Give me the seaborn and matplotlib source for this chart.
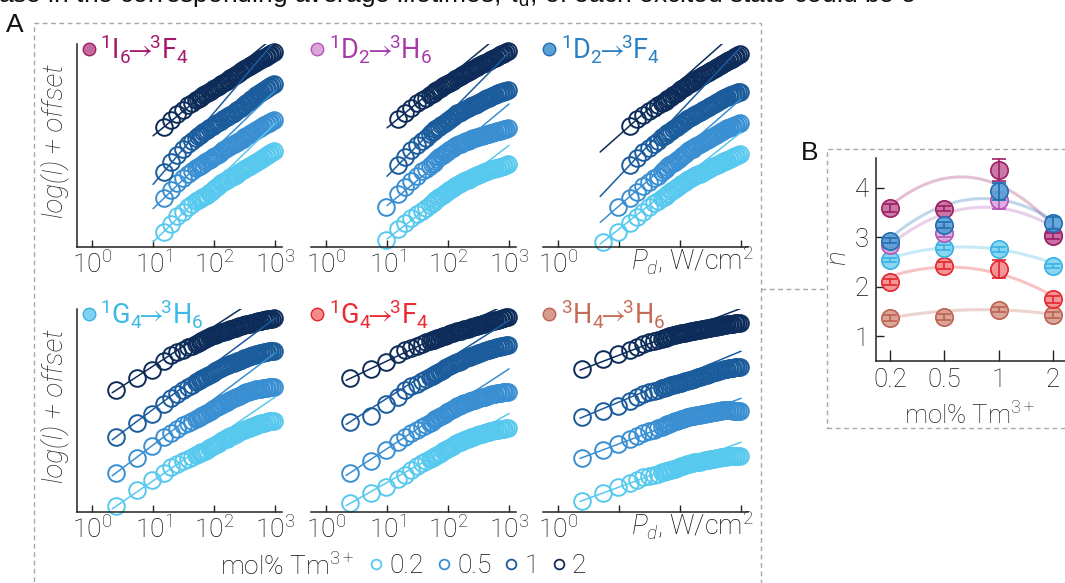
import numpy as np
import matplotlib
matplotlib.use("Agg")
import matplotlib.pyplot as plt
from matplotlib.lines import Line2D
from matplotlib.patches import Rectangle
from matplotlib.colors import to_rgba
from matplotlib.ticker import NullLocator
import seaborn as sns

# ---------------------------------------------------------------- data
# excitation power densities (W/cm^2) of the measurement series
P_GRID = [2.5, 5.5, 9.5, 15, 20, 25, 31, 37, 43, 50, 54, 58, 62, 67, 72, 78, 84, 90, 97,
          105, 113, 120, 130, 140, 150, 160, 172, 185, 197, 210, 225, 240, 257, 275, 295,
          315, 337, 360, 385, 410, 437, 465, 495, 525, 557, 590, 625, 660, 700, 740, 790,
          840, 895, 950]

CONC = ["0.2", "0.5", "1", "2"]          # mol% Tm3+
CONC_COLORS = ["#58C9EE", "#3A8FD2", "#1B5C9C", "#0D2C59"]

# log(I) + offset; every series ends at the highest power density of the grid
I6F4_02 = [0.93, 1.42, 1.86, 2.15, 2.40, 2.59, 2.77, 2.83, 2.89, 2.96, 3.04, 3.11, 3.18, 3.27, 3.36, 3.47, 3.57, 3.66, 3.75, 3.86, 3.96, 4.02, 4.07, 4.15, 4.22, 4.27, 4.32, 4.39, 4.45, 4.52, 4.58, 4.65, 4.71, 4.78, 4.85, 4.91, 4.96, 5.03, 5.10, 5.16, 5.22, 5.28, 5.33, 5.39, 5.44, 5.50, 5.56, 5.62, 5.67, 5.74, 5.80]
I6F4_05 = [2.95, 3.46, 3.88, 4.19, 4.45, 4.60, 4.77, 4.84, 4.91, 4.99, 5.06, 5.13, 5.19, 5.27, 5.35, 5.43, 5.51, 5.59, 5.66, 5.77, 5.88, 5.94, 5.99, 6.07, 6.14, 6.20, 6.25, 6.31, 6.37, 6.44, 6.50, 6.57, 6.64, 6.72, 6.79, 6.85, 6.90, 6.98, 7.06, 7.12, 7.17, 7.22, 7.27, 7.32, 7.37, 7.43, 7.48, 7.54, 7.59, 7.66, 7.72]
I6F4_1 = [4.56, 5.16, 5.60, 5.96, 6.23, 6.42, 6.62, 6.70, 6.77, 6.87, 6.96, 7.04, 7.11, 7.19, 7.26, 7.35, 7.43, 7.50, 7.57, 7.66, 7.74, 7.80, 7.86, 7.95, 8.03, 8.09, 8.15, 8.22, 8.29, 8.37, 8.44, 8.53, 8.62, 8.71, 8.80, 8.87, 8.94, 9.03, 9.12, 9.19, 9.26, 9.32, 9.38, 9.44, 9.50, 9.56, 9.62, 9.68, 9.74, 9.81, 9.88]
I6F4_2 = [7.27, 7.68, 8.05, 8.33, 8.58, 8.73, 8.90, 8.97, 9.04, 9.12, 9.20, 9.27, 9.33, 9.40, 9.47, 9.55, 9.62, 9.69, 9.76, 9.85, 9.94, 10.00, 10.06, 10.15, 10.23, 10.29, 10.35, 10.43, 10.50, 10.57, 10.64, 10.71, 10.77, 10.84, 10.91, 10.97, 11.02, 11.09, 11.15, 11.21, 11.26, 11.32, 11.37, 11.43, 11.48, 11.54, 11.59, 11.65, 11.70, 11.77, 11.83]

D2H6_02 = [0.42, 1.09, 1.44, 1.77, 1.99, 2.20, 2.36, 2.56, 2.65, 2.73, 2.83, 2.93, 3.02, 3.10, 3.18, 3.26, 3.35, 3.44, 3.52, 3.60, 3.69, 3.78, 3.83, 3.87, 3.94, 4.00, 4.04, 4.08, 4.14, 4.19, 4.24, 4.29, 4.34, 4.39, 4.44, 4.49, 4.53, 4.56, 4.60, 4.64, 4.68, 4.71, 4.74, 4.76, 4.79, 4.81, 4.84, 4.87, 4.90, 4.93, 4.97, 5.00]
D2H6_05 = [2.44, 3.21, 3.61, 3.98, 4.33, 4.59, 4.74, 4.93, 5.02, 5.12, 5.23, 5.34, 5.43, 5.52, 5.60, 5.68, 5.78, 5.87, 5.95, 6.02, 6.11, 6.19, 6.23, 6.27, 6.32, 6.37, 6.41, 6.44, 6.49, 6.53, 6.58, 6.62, 6.65, 6.68, 6.72, 6.75, 6.78, 6.80, 6.84, 6.87, 6.90, 6.92, 6.95, 6.98, 7.01, 7.03, 7.06, 7.09, 7.12, 7.14, 7.18, 7.21]
D2H6_1 = [4.95, 5.45, 5.85, 6.18, 6.45, 6.63, 6.87, 6.96, 7.04, 7.13, 7.21, 7.29, 7.37, 7.45, 7.53, 7.62, 7.71, 7.79, 7.87, 7.98, 8.10, 8.15, 8.19, 8.26, 8.32, 8.37, 8.41, 8.47, 8.52, 8.58, 8.63, 8.69, 8.74, 8.80, 8.85, 8.90, 8.94, 9.00, 9.06, 9.11, 9.16, 9.20, 9.24, 9.28, 9.31, 9.35, 9.38, 9.41, 9.44, 9.47, 9.50]
D2H6_2 = [7.76, 8.11, 8.42, 8.70, 8.90, 9.04, 9.21, 9.28, 9.35, 9.44, 9.52, 9.59, 9.66, 9.73, 9.80, 9.88, 9.95, 10.02, 10.09, 10.17, 10.24, 10.30, 10.35, 10.43, 10.50, 10.56, 10.61, 10.68, 10.74, 10.81, 10.87, 10.93, 10.98, 11.04, 11.09, 11.14, 11.18, 11.24, 11.29, 11.34, 11.39, 11.44, 11.48, 11.53, 11.58, 11.63, 11.67, 11.72, 11.77, 11.83, 11.88]

D2F4_02 = [0.33, 0.92, 1.47, 1.84, 2.14, 2.40, 2.67, 2.80, 2.96, 3.04, 3.12, 3.21, 3.30, 3.38, 3.45, 3.53, 3.61, 3.70, 3.79, 3.87, 3.95, 4.05, 4.14, 4.19, 4.23, 4.30, 4.36, 4.41, 4.45, 4.51, 4.56, 4.62, 4.67, 4.73, 4.78, 4.84, 4.89, 4.94, 4.98, 5.04, 5.10, 5.15, 5.19, 5.24, 5.28, 5.32, 5.36, 5.41, 5.45, 5.49, 5.53, 5.59, 5.64]
D2F4_05 = [2.42, 2.95, 3.35, 3.69, 3.96, 4.19, 4.33, 4.52, 4.64, 4.75, 4.85, 4.95, 5.01, 5.07, 5.16, 5.25, 5.36, 5.46, 5.55, 5.64, 5.75, 5.85, 5.91, 5.96, 6.04, 6.11, 6.17, 6.22, 6.29, 6.35, 6.42, 6.48, 6.55, 6.62, 6.69, 6.75, 6.81, 6.86, 6.93, 6.99, 7.05, 7.10, 7.15, 7.19, 7.23, 7.26, 7.30, 7.34, 7.38, 7.41, 7.46, 7.50]
D2F4_1 = [4.97, 5.38, 5.74, 6.01, 6.24, 6.44, 6.64, 6.72, 6.79, 6.88, 6.97, 7.05, 7.13, 7.21, 7.29, 7.39, 7.48, 7.56, 7.64, 7.74, 7.83, 7.89, 7.94, 8.01, 8.07, 8.12, 8.17, 8.23, 8.29, 8.35, 8.41, 8.48, 8.54, 8.61, 8.67, 8.73, 8.79, 8.86, 8.92, 8.98, 9.03, 9.07, 9.11, 9.15, 9.19, 9.23, 9.26, 9.30, 9.33, 9.37, 9.41]
D2F4_2 = [7.35, 7.74, 8.03, 8.26, 8.43, 8.58, 8.74, 8.80, 8.87, 8.96, 9.04, 9.12, 9.20, 9.28, 9.36, 9.46, 9.55, 9.63, 9.71, 9.81, 9.90, 9.96, 10.01, 10.09, 10.16, 10.22, 10.28, 10.35, 10.42, 10.49, 10.56, 10.63, 10.69, 10.75, 10.81, 10.87, 10.92, 10.99, 11.05, 11.10, 11.15, 11.21, 11.26, 11.31, 11.36, 11.42, 11.47, 11.53, 11.58, 11.64, 11.70]

G4H6_02 = [0.36, 1.33, 1.92, 2.36, 2.72, 2.91, 3.09, 3.23, 3.33, 3.45, 3.50, 3.55, 3.61, 3.66, 3.72, 3.78, 3.85, 3.92, 4.00, 4.07, 4.14, 4.21, 4.29, 4.36, 4.41, 4.45, 4.52, 4.58, 4.63, 4.67, 4.73, 4.78, 4.84, 4.89, 4.94, 4.99, 5.04, 5.08, 5.12, 5.16, 5.20, 5.23, 5.27, 5.31, 5.34, 5.37, 5.40, 5.42, 5.45, 5.47, 5.49, 5.51, 5.52, 5.53]
G4H6_05 = [2.38, 3.30, 3.98, 4.52, 4.79, 5.03, 5.25, 5.40, 5.51, 5.65, 5.70, 5.76, 5.82, 5.89, 5.94, 6.00, 6.07, 6.14, 6.22, 6.30, 6.36, 6.43, 6.51, 6.59, 6.63, 6.68, 6.74, 6.81, 6.85, 6.89, 6.94, 7.00, 7.05, 7.11, 7.15, 7.20, 7.25, 7.29, 7.32, 7.35, 7.38, 7.41, 7.43, 7.45, 7.46, 7.48, 7.50, 7.51, 7.52, 7.54, 7.55, 7.57, 7.58, 7.60]
G4H6_1 = [4.56, 5.38, 5.96, 6.57, 6.91, 7.18, 7.41, 7.58, 7.70, 7.85, 7.91, 7.98, 8.05, 8.11, 8.17, 8.22, 8.30, 8.37, 8.45, 8.53, 8.60, 8.66, 8.74, 8.81, 8.85, 8.88, 8.93, 8.98, 9.02, 9.05, 9.10, 9.14, 9.18, 9.22, 9.27, 9.31, 9.35, 9.39, 9.43, 9.46, 9.50, 9.54, 9.57, 9.60, 9.62, 9.64, 9.66, 9.67, 9.69, 9.71, 9.73, 9.74, 9.76, 9.78]
G4H6_2 = [7.39, 8.12, 8.63, 9.15, 9.49, 9.68, 9.84, 9.98, 10.08, 10.21, 10.26, 10.31, 10.37, 10.43, 10.48, 10.53, 10.59, 10.64, 10.70, 10.75, 10.80, 10.85, 10.89, 10.93, 10.97, 11.00, 11.05, 11.09, 11.12, 11.14, 11.18, 11.21, 11.25, 11.28, 11.31, 11.34, 11.37, 11.40, 11.42, 11.44, 11.47, 11.50, 11.53, 11.55, 11.57, 11.59, 11.61, 11.63, 11.65, 11.67, 11.69, 11.70, 11.72, 11.74]

G4F4_02 = [0.53, 1.15, 1.52, 1.97, 2.26, 2.52, 2.76, 2.95, 3.08, 3.23, 3.29, 3.35, 3.42, 3.48, 3.54, 3.60, 3.67, 3.74, 3.82, 3.89, 3.96, 4.02, 4.10, 4.18, 4.22, 4.26, 4.31, 4.36, 4.40, 4.43, 4.48, 4.52, 4.56, 4.60, 4.64, 4.68, 4.72, 4.75, 4.78, 4.80, 4.83, 4.86, 4.89, 4.92, 4.94, 4.96, 4.98, 5.00, 5.02, 5.03, 5.05, 5.06, 5.07, 5.08]
G4F4_05 = [2.38, 3.12, 3.78, 4.24, 4.54, 4.78, 4.98, 5.16, 5.29, 5.42, 5.48, 5.55, 5.62, 5.69, 5.75, 5.82, 5.89, 5.96, 6.04, 6.12, 6.18, 6.25, 6.33, 6.40, 6.44, 6.48, 6.54, 6.59, 6.63, 6.66, 6.71, 6.75, 6.78, 6.81, 6.85, 6.88, 6.92, 6.95, 6.98, 7.00, 7.04, 7.07, 7.10, 7.13, 7.15, 7.17, 7.19, 7.21, 7.23, 7.24, 7.26, 7.27, 7.29, 7.30]
G4F4_1 = [5.47, 5.82, 6.57, 6.97, 7.39, 7.62, 7.78, 7.95, 8.05, 8.16, 8.22, 8.28, 8.34, 8.40, 8.47, 8.54, 8.62, 8.70, 8.77, 8.83, 8.89, 8.94, 9.01, 9.07, 9.12, 9.17, 9.23, 9.29, 9.33, 9.37, 9.41, 9.45, 9.50, 9.54, 9.58, 9.62, 9.66, 9.69, 9.73, 9.76, 9.80, 9.84, 9.87, 9.89, 9.92, 9.94, 9.97, 9.99, 10.02, 10.04, 10.07, 10.09, 10.11, 10.13]
G4F4_2 = [8.10, 8.65, 9.09, 9.56, 9.79, 9.94, 10.08, 10.20, 10.28, 10.37, 10.41, 10.45, 10.50, 10.54, 10.57, 10.61, 10.65, 10.69, 10.74, 10.78, 10.82, 10.86, 10.90, 10.94, 10.97, 11.00, 11.04, 11.07, 11.10, 11.12, 11.16, 11.19, 11.22, 11.25, 11.29, 11.32, 11.35, 11.38, 11.41, 11.44, 11.48, 11.51, 11.54, 11.57, 11.59, 11.61, 11.64, 11.66, 11.69, 11.71, 11.74, 11.76, 11.79, 11.82]

H4H6_02 = [0.69, 1.16, 1.49, 1.74, 1.93, 2.11, 2.17, 2.26, 2.33, 2.41, 2.44, 2.47, 2.51, 2.54, 2.57, 2.59, 2.63, 2.67, 2.72, 2.76, 2.80, 2.84, 2.89, 2.93, 2.96, 2.98, 3.01, 3.03, 3.05, 3.06, 3.08, 3.10, 3.13, 3.15, 3.17, 3.19, 3.22, 3.24, 3.26, 3.27, 3.29, 3.31, 3.33, 3.35, 3.36, 3.37, 3.38, 3.38, 3.39, 3.39, 3.40, 3.40, 3.40, 3.40]
H4H6_05 = [3.30, 3.76, 4.10, 4.40, 4.60, 4.79, 4.89, 5.00, 5.08, 5.18, 5.22, 5.27, 5.31, 5.36, 5.40, 5.45, 5.49, 5.53, 5.57, 5.61, 5.65, 5.69, 5.73, 5.77, 5.79, 5.81, 5.84, 5.86, 5.88, 5.90, 5.92, 5.94, 5.96, 5.98, 6.00, 6.02, 6.05, 6.07, 6.09, 6.10, 6.13, 6.15, 6.16, 6.17, 6.17, 6.17, 6.17, 6.16, 6.16, 6.15, 6.15, 6.15, 6.15, 6.14]
H4H6_1 = [5.74, 6.13, 6.41, 6.74, 6.96, 7.14, 7.27, 7.36, 7.42, 7.50, 7.53, 7.56, 7.60, 7.64, 7.67, 7.70, 7.74, 7.77, 7.81, 7.84, 7.88, 7.91, 7.95, 7.99, 8.02, 8.04, 8.09, 8.13, 8.16, 8.19, 8.23, 8.26, 8.30, 8.33, 8.37, 8.40, 8.44, 8.47, 8.50, 8.52, 8.56, 8.59, 8.62, 8.65, 8.67, 8.69, 8.71, 8.72, 8.74, 8.75, 8.77, 8.78, 8.80, 8.81]
H4H6_2 = [8.65, 9.26, 9.60, 9.83, 10.00, 10.20, 10.30, 10.39, 10.44, 10.51, 10.54, 10.57, 10.61, 10.65, 10.69, 10.73, 10.75, 10.77, 10.80, 10.83, 10.85, 10.87, 10.90, 10.92, 10.94, 10.96, 10.99, 11.01, 11.03, 11.05, 11.07, 11.09, 11.12, 11.14, 11.16, 11.17, 11.20, 11.22, 11.24, 11.26, 11.28, 11.30, 11.32, 11.34, 11.36, 11.37, 11.38, 11.39, 11.41, 11.42, 11.43, 11.44, 11.46, 11.47]

# power-law exponents n (one per Tm3+ concentration), their errors, and the trend guide
N_I6F4 = [3.59, 3.58, 4.35, 3.02]
N_D2H6 = [2.84, 3.08, 3.75, 3.05]
N_D2F4 = [2.93, 3.24, 3.93, 3.28]
N_G4H6 = [2.54, 2.79, 2.76, 2.41]
N_G4F4 = [2.09, 2.42, 2.36, 1.75]
N_H4H6 = [1.36, 1.38, 1.54, 1.42]

ERR_I6F4 = [0.08, 0.06, 0.22, 0.06]
ERR_D2H6 = [0.05, 0.07, 0.17, 0.06]
ERR_D2F4 = [0.05, 0.06, 0.17, 0.12]
ERR_G4H6 = [0.05, 0.05, 0.05, 0.04]
ERR_G4F4 = [0.06, 0.07, 0.18, 0.07]
ERR_H4H6 = [0.06, 0.06, 0.06, 0.06]

TREND_I6F4 = [3.65, 4.13, 4.11, 3.22]
TREND_D2H6 = [2.88, 3.38, 3.68, 3.18]
TREND_D2F4 = [3.01, 3.55, 3.85, 3.31]
TREND_G4H6 = [2.58, 2.78, 2.76, 2.47]
TREND_G4F4 = [2.21, 2.39, 2.27, 1.81]
TREND_H4H6 = [1.37, 1.50, 1.54, 1.44]

ARROW = r"$\!\!\rightarrow\!\!$"
TRANSITIONS = [
    dict(label=r"$^{1}$I$_{6}$" + ARROW + r"$^{3}$F$_{4}$", text="#A3186A",
         fill="#C46A9E", edge="#9E1F63",
         series=[I6F4_02, I6F4_05, I6F4_1, I6F4_2], n=N_I6F4, err=ERR_I6F4,
         trend=TREND_I6F4, fit_from=1.0),
    dict(label=r"$^{1}$D$_{2}$" + ARROW + r"$^{3}$H$_{6}$", text="#A63BAC",
         fill="#DBA4DC", edge="#B455B6",
         series=[D2H6_02, D2H6_05, D2H6_1, D2H6_2], n=N_D2H6, err=ERR_D2H6,
         trend=TREND_D2H6, fit_from=1.0),
    dict(label=r"$^{1}$D$_{2}$" + ARROW + r"$^{3}$F$_{4}$", text="#2A80C2",
         fill="#5A9FD6", edge="#1F6FB2",
         series=[D2F4_02, D2F4_05, D2F4_1, D2F4_2], n=N_D2F4, err=ERR_D2F4,
         trend=TREND_D2F4, fit_from=0.69),
    dict(label=r"$^{1}$G$_{4}$" + ARROW + r"$^{3}$H$_{6}$", text="#3DB9E6",
         fill="#80D1F0", edge="#35B2E3",
         series=[G4H6_02, G4H6_05, G4H6_1, G4H6_2], n=N_G4H6, err=ERR_G4H6,
         trend=TREND_G4H6, fit_from=0.33),
    dict(label=r"$^{1}$G$_{4}$" + ARROW + r"$^{3}$F$_{4}$", text="#EC2A33",
         fill="#F48A8C", edge="#E3262E",
         series=[G4F4_02, G4F4_05, G4F4_1, G4F4_2], n=N_G4F4, err=ERR_G4F4,
         trend=TREND_G4F4, fit_from=0.33),
    dict(label=r"$^{3}$H$_{4}$" + ARROW + r"$^{3}$H$_{6}$", text="#C46C58",
         fill="#D89C8D", edge="#BC6152",
         series=[H4H6_02, H4H6_05, H4H6_1, H4H6_2], n=N_H4H6, err=ERR_H4H6,
         trend=TREND_H4H6, fit_from=0.36),
]

# ---------------------------------------------------------------- style
sns.set_theme(style="ticks")
FONT = ["Roboto", "DejaVu Sans"]
plt.rcParams.update({
    "font.family": FONT,
    "font.weight": "light",
    "axes.labelweight": "light",
    "mathtext.fontset": "custom",
    "mathtext.rm": "Roboto:light",
    "mathtext.it": "Roboto:italic:light",
    "mathtext.bf": "Roboto:bold",
    "mathtext.default": "regular",
    "axes.edgecolor": "#222222",
    "axes.linewidth": 1.1,
    "xtick.color": "#222222",
    "ytick.color": "#222222",
    "xtick.labelcolor": "#111111",
    "ytick.labelcolor": "#111111",
    "text.color": "#111111",
})

W, H = 1065, 583
fig = plt.figure(figsize=(W / 100, H / 100), dpi=100)


def fx(px):
    return px / W


def fy(py):
    return 1 - py / H


GREY = "#A8A8A8"
DASH = (0, (3.5, 2.5))
SANS = ["Liberation Sans", "DejaVu Sans"]

# sentence running above the figure
fig.text(fx(-2), fy(2), "ase in the corresponding average lifetimes, $\\tau_{d}$, of each "
         "excited state could be e", fontsize=19, family=SANS,
         weight="normal", va="baseline", ha="left", color="#111111")

# panel frames
fig.add_artist(Rectangle((fx(34), fy(600)), (761 - 34) / W, (600 - 23) / H, fill=False,
                         ec=GREY, lw=1, ls=DASH, transform=fig.transFigure))
fig.add_artist(Rectangle((fx(827), fy(428)), (1080 - 827) / W, (428 - 149) / H, fill=False,
                         ec=GREY, lw=1, ls=DASH, transform=fig.transFigure))
fig.add_artist(Line2D([fx(761), fx(827)], [fy(289), fy(289)], color=GREY, lw=1, ls=DASH,
                      transform=fig.transFigure))
fig.text(fx(15), fy(32), "A", fontsize=19, ha="center", va="baseline", family=SANS,
         weight="normal")
fig.text(fx(810), fy(160), "B", fontsize=19, ha="center", va="baseline", family=SANS,
         weight="normal")

# ---------------------------------------------------------------- panel A
COL_LEFT = [77.4, 311.4, 543.4]
ROW_BOTTOM = [247, 512]
AX_W, AX_H = 205, 203
PX_PER_DECADE_Y = 16.5
XLIM = (10 ** -0.24, 10 ** 3.12)
YLIM = (0, AX_H / PX_PER_DECADE_Y)
TICKS = [1, 10, 100, 1000]
TICK_LABELS = [r"$10^{0}$", r"$10^{1}$", r"$10^{2}$", r"$10^{3}$"]

for i, tr in enumerate(TRANSITIONS):
    r, c = divmod(i, 3)
    ax = fig.add_axes([fx(COL_LEFT[c]), fy(ROW_BOTTOM[r]), AX_W / W, AX_H / H])
    ax.set_xscale("log")
    for k, (y, col) in enumerate(zip(tr["series"], CONC_COLORS)):
        x = np.array(P_GRID[-len(y):], dtype=float)
        y = np.array(y)
        ax.plot(x, y, ls="none", marker="o", ms=12, mfc="none", mec=col, mew=1.4,
                clip_on=False, zorder=2)
        # power-law fit of slope n through the low-power end of the series
        lx = np.array([tr["fit_from"], 3.0])
        ly = y[0] + tr["n"][k] * (lx - np.log10(x[0]))
        sns.lineplot(x=10 ** lx, y=ly, ax=ax, color=col, lw=1.1, zorder=3)
    ax.set_xlim(XLIM)
    ax.set_ylim(YLIM)
    ax.set_xticks(TICKS)
    ax.xaxis.set_minor_locator(NullLocator())
    if c == 2:
        ax.set_xticklabels([TICK_LABELS[0], "", "", ""])
        ax.text(1.025, -0.113, r"$\mathit{P}_{\mathit{d}}$, W/cm$^{2}$",
                transform=ax.transAxes, ha="right", va="baseline", fontsize=19.5)
    else:
        ax.set_xticklabels(TICK_LABELS)
    ax.set_yticks([])
    ax.tick_params(axis="x", direction="in", length=5, width=1, pad=3, labelsize=19)
    sns.despine(ax=ax, left=(c != 0))
    if c == 0:
        ax.set_ylabel("log(I) + offset", fontsize=20, fontstyle="italic", fontweight="light")
        ax.yaxis.set_label_coords(-0.04, 0.52)
    handle = Line2D([], [], ls="none", marker="o", ms=9, mfc=tr["fill"], mec=tr["edge"], mew=1)
    bx = 0.02 if c == 0 else -0.007
    leg = ax.legend([handle], [tr["label"]], loc="upper left", bbox_to_anchor=(bx, 1.06),
                    frameon=False, fontsize=19.5, labelcolor=tr["text"], handlelength=0.55,
                    handletextpad=0.15, borderpad=0, borderaxespad=0)
    for t in leg.get_texts():
        t.set_fontweight("normal")

# concentration key
fig.text(fx(220), fy(575), "mol% Tm$^{3+}$", fontsize=19, va="baseline", ha="left")
key = [Line2D([], [], ls="none", marker="o", ms=7, mfc="none", mec=col, mew=1.3)
       for col in CONC_COLORS]
fig.legend(key, CONC, loc="center left", bbox_to_anchor=(fx(371), fy(566)), ncol=4,
           frameon=False, fontsize=19, handlelength=0.4, handletextpad=0.3,
           columnspacing=0.55, borderpad=0, borderaxespad=0)

# ---------------------------------------------------------------- panel B
axB = fig.add_axes([fx(876), fy(361), 204 / W, 203 / H])
xs = np.arange(len(CONC))
xx = np.linspace(0, 3, 120)
for tr in TRANSITIONS:
    coef = np.polyfit(xs, tr["trend"], 2)
    sns.lineplot(x=xx, y=np.polyval(coef, xx), ax=axB, color=tr["edge"], alpha=0.28,
                 lw=2.2, zorder=1)
draw_order = [5, 4, 3, 1, 0, 2]
for j, idx in enumerate(draw_order):
    tr = TRANSITIONS[idx]
    axB.plot(xs, tr["n"], ls="none", marker="o", ms=12.5, mfc=to_rgba(tr["fill"], 0.9),
             mec=tr["edge"], mew=1.2, zorder=3 + 2 * j, clip_on=False)
    axB.errorbar(xs, tr["n"], yerr=tr["err"], fmt="none", ecolor=tr["edge"], elinewidth=1.2,
                 capsize=5, capthick=1.2, zorder=4 + 2 * j)
axB.set_xlim(-0.26, 3.5)
axB.set_ylim(0.5, 4.6)
axB.set_xticks(xs)
axB.set_xticklabels(CONC)
axB.set_yticks([1, 2, 3, 4])
axB.tick_params(axis="x", direction="in", length=8, width=1, pad=5, labelsize=18.5)
axB.tick_params(axis="y", direction="in", length=6, width=1, pad=5, labelsize=18.5)
sns.despine(ax=axB)
axB.set_ylabel("n", fontsize=20, fontstyle="italic", fontweight="light")
axB.yaxis.set_label_coords(-0.12, 0.51)
axB.set_xlabel("mol% Tm$^{3+}$", fontsize=18.5)
axB.xaxis.set_label_coords(0.46, -0.2)

fig.savefig("out.png", dpi=100)
